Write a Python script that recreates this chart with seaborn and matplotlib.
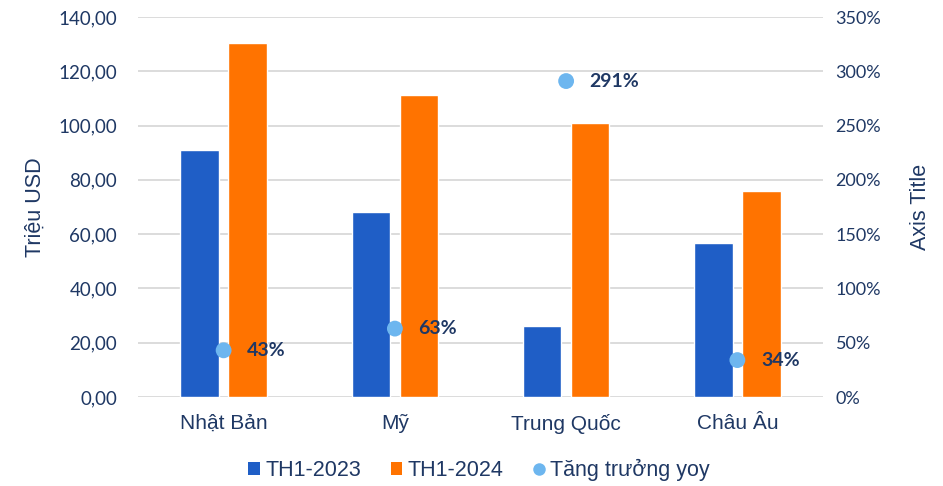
import matplotlib
matplotlib.use("Agg")
import matplotlib.pyplot as plt
import seaborn as sns
import pandas as pd
from matplotlib.patches import Patch
from matplotlib.lines import Line2D
from matplotlib.ticker import FuncFormatter, MultipleLocator

categories = ["Nhật Bản", "Mỹ", "Trung Quốc", "Châu Âu"]
th1_2023 = [91.1, 68.2, 26.0, 56.8]
th1_2024 = [130.3, 111.2, 100.9, 76.0]
growth = [0.43, 0.63, 2.91, 0.34]
growth_labels = ["43%", "63%", "291%", "34%"]
series_names = ["TH1-2023", "TH1-2024", "Tăng trưởng yoy"]

BLUE = "#1F5EC6"
ORANGE = "#FF7300"
LIGHT = "#6DB6EF"
NAVY = "#1F3864"
GRID = "#D9D9D9"

sns.set_theme(style="white")
plt.rcParams["font.family"] = ["Liberation Sans", "DejaVu Sans"]

df = pd.DataFrame({
    "cat": categories * 2,
    "val": th1_2023 + th1_2024,
    "series": [series_names[0]] * 4 + [series_names[1]] * 4,
})

fig = plt.figure(figsize=(9.43, 4.86), dpi=100)
ax = fig.add_axes([138 / 943, 1 - 397 / 486, (823 - 138) / 943, (397 - 17) / 486])

sns.barplot(data=df, x="cat", y="val", hue="series", order=categories,
            hue_order=series_names[:2], palette=[BLUE, ORANGE],
            width=0.56, gap=0.2, saturation=1, legend=False, ax=ax)
ax.set_xlim(-0.5, 3.5)
ax.set_ylim(0, 140)
ax.yaxis.set_major_locator(MultipleLocator(20))
ax.yaxis.set_major_formatter(FuncFormatter(lambda v, p: f"{v:.2f}".replace(".", ",")))
ax.grid(axis="y", color=GRID, linewidth=1.3)
ax.set_axisbelow(True)
for s in ax.spines.values():
    s.set_visible(False)
ax.tick_params(axis="both", length=0)
ax.tick_params(axis="y", pad=15, labelsize=13.5, labelcolor=NAVY)
ax.tick_params(axis="x", pad=12, labelsize=15, labelcolor=NAVY)
for t in ax.get_yticklabels():
    t.set_fontfamily("Lato")
ax.set_xlabel("")
ax.set_ylabel("Triệu USD", fontsize=15.5, color=NAVY, labelpad=9)

ax2 = ax.twinx()
gdf = pd.DataFrame({"cat": categories, "g": growth})
sns.scatterplot(data=gdf, x="cat", y="g", color=LIGHT, s=130, edgecolor="none",
                ax=ax2, zorder=5)
ax2.set_xlim(-0.5, 3.5)
ax2.set_ylim(0, 3.5)
ax2.yaxis.set_major_locator(MultipleLocator(0.5))
ax2.yaxis.set_major_formatter(FuncFormatter(lambda v, p: f"{v * 100:.0f}%"))
for s in ax2.spines.values():
    s.set_visible(False)
ax2.tick_params(axis="y", length=0, pad=9, labelsize=13, labelcolor=NAVY)
for t in ax2.get_yticklabels():
    t.set_fontfamily("Lato")
ax2.set_ylabel("Axis Title", fontsize=15.5, color=NAVY, labelpad=21)
ax2.grid(False)

for i, (g, lab) in enumerate(zip(growth, growth_labels)):
    ax2.annotate(lab, (i, g), xytext=(17, 0), textcoords="offset points",
                 ha="left", va="center", fontsize=14, fontweight="bold",
                 color=NAVY, family="Lato")

handles = [
    Patch(facecolor=BLUE, edgecolor="none", label=series_names[0]),
    Patch(facecolor=ORANGE, edgecolor="none", label=series_names[1]),
    Line2D([], [], marker="o", linestyle="none", markerfacecolor=LIGHT,
           markeredgecolor="none", markersize=9, label=series_names[2]),
]
leg = fig.legend(handles=handles, loc="center", bbox_to_anchor=(479 / 943, 1 - 470 / 486),
                 ncol=3, frameon=False, fontsize=15.5, handlelength=0.55, handleheight=0.55,
                 handletextpad=0.25, columnspacing=1.35)
for t in leg.get_texts():
    t.set_color(NAVY)

fig.savefig("out.png", dpi=100)
